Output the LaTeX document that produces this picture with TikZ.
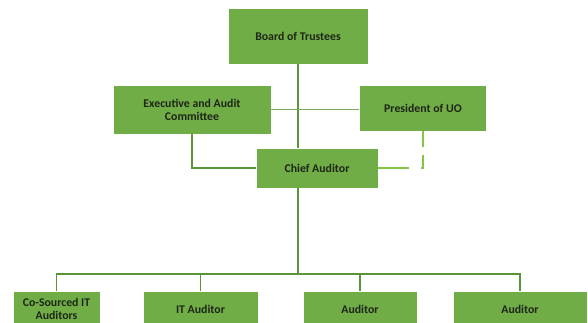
\documentclass[tikz,border=0pt]{standalone}
\usepackage{fontspec}
\setmainfont{Carlito}
\usetikzlibrary{positioning,calc}
\definecolor{orgGreen}{HTML}{70AD47}
\definecolor{orgLine}{HTML}{5A9639}
\definecolor{orgLight}{HTML}{86C545}
\definecolor{orgText}{HTML}{1E2616}

\begin{document}
\begin{tikzpicture}[
        x=1pt, y=-1pt,
        every node/.style={font=\fontsize{11.8}{13}\selectfont\bfseries, text=orgText, align=center},
        unit/.style={draw=white, line width=0.8pt, fill=orgGreen, inner sep=2pt},
        link/.style={draw=orgLine, line width=1.8pt},
        advisory/.style={draw=orgLight, line width=1.8pt, dash pattern=on 31pt off 12pt on 15pt off 8pt}
    ]
        \clip (0,0) rectangle (588,322);
        \useasboundingbox (0,0) rectangle (588,322);

        % top and middle level
        \node[unit, minimum width=140pt, minimum height=56pt] (board) at (298,36) {Board of Trustees};
        \node[unit, minimum width=158pt, minimum height=49pt] (exec) at (192,109.5) {Executive and Audit\\Committee};
        \node[unit, minimum width=127pt, minimum height=46pt] (president) at (423,108) {President of UO};
        \node[unit, minimum width=122pt, minimum height=40pt] (chief) at (317,168) {Chief Auditor};

        % staff level
        \node[unit, minimum width=87pt, minimum height=36pt] (cosourced) at (56.5,309) {Co-Sourced IT\\Auditors};
        \node[unit, minimum width=115pt, minimum height=36pt] (itaudit) at (200.5,309) {IT Auditor};
        \node[unit, minimum width=114pt, minimum height=36pt] (auditA) at (360,309) {Auditor};
        \node[unit, minimum width=134pt, minimum height=36pt] (auditB) at (520,309) {Auditor};

        \coordinate (bus) at (298,274);

        \draw[link] (board.south) -- (board.south |- chief.north);
        \draw[link, draw=orgLine!80] (exec.east) -- (exec.east -| president.west);
        \draw[link] (exec.south) |- (chief.west);
        \draw[advisory] (chief.east) -| (president.south);
        \draw[link] (chief.south -| bus) -- (bus);
        \foreach \staff in {cosourced, itaudit, auditA, auditB}
            \draw[link] (bus) -| (\staff.north);
\end{tikzpicture}
\end{document}
